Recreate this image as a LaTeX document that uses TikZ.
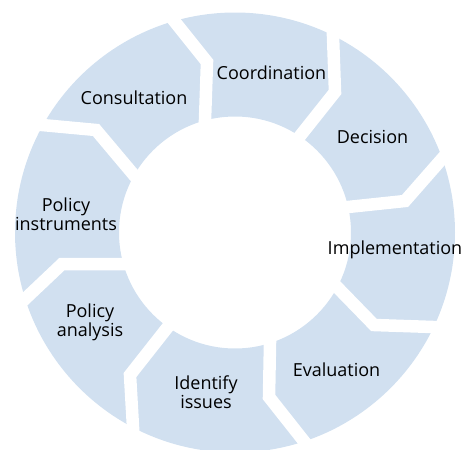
\documentclass[tikz,border=0pt]{standalone}
\usepackage{fontspec}
\setmainfont{Open Sans}
\definecolor{ringblue}{RGB}{209,224,240}
\begin{document}
\begin{tikzpicture}[x=1pt,y=-1pt,
  gapline/.style={white,line width=12.5pt,miter limit=10,shorten <=-25pt,shorten >=-25pt},
  lbl/.style={font=\fontsize{18}{17.5}\selectfont,anchor=base,align=center,inner sep=0pt,text=black}]
\useasboundingbox (0,0) rectangle (464,450);
\clip (0,0) rectangle (464,450);
\coordinate (c) at (235,232.5);
\fill[ringblue,even odd rule] (c) circle[radius=220] (c) circle[radius=116];
% gaps between the segments
\draw[gapline] (205,120) -- (207,62) -- (175,22);
\draw[gapline] (300,136) -- (335,92) -- (333,36);
\draw[gapline] (348,207) -- (405,201) -- (441,160);
\draw[gapline] (337,287) -- (374,325) -- (433,327);
\draw[gapline] (270,343) -- (269,397) -- (303,440);
\draw[gapline] (167,328) -- (130,375) -- (133,427);
\draw[gapline] (122,264) -- (62,264) -- (25,299);
\draw[gapline] (133,174) -- (96,130) -- (42,125);
% labels
\node[lbl] (coord) at (271.5,79) {Coordination};
\node[lbl] (consult) at (134,104) {Consultation};
\node[lbl] (decision) at (372.5,143.3) {Decision};
\node[lbl] (polinst) at (66,230) {Policy\\instruments};
\node[lbl] (impl) at (395,254) {Implementation};
\node[lbl] (polana) at (90,336.7) {Policy\\analysis};
\node[lbl] (eval) at (336.5,376) {Evaluation};
\node[lbl] (ident) at (206,408) {Identify\\issues};
\end{tikzpicture}
\end{document}
